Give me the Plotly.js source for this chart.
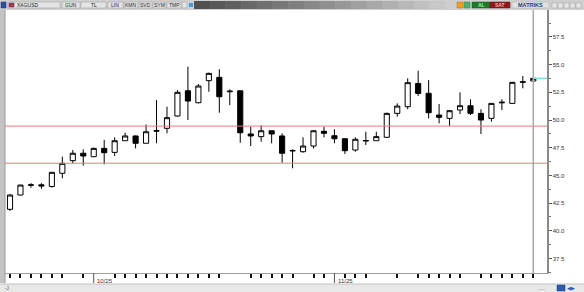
<!DOCTYPE html>
<html><head><meta charset="utf-8">
<script src="https://cdn.plot.ly/plotly-3.0.1.min.js"></script>
<style>html,body{margin:0;padding:0;background:#fff;}#chart{width:584px;height:292px;}</style>
</head><body><div id="chart"></div>
<script>
// ---- data ----
const day = Array.from({length:51},(_,i)=>i);
const openV  = [41.94,43.23,44.10,44.15,44.00,45.19,46.33,47.00,46.69,47.44,47.08,48.13,48.56,47.90,49.05,49.25,50.36,52.64,51.56,53.55,53.85,52.55,52.64,48.74,48.50,49.03,48.56,47.20,47.14,47.65,48.98,48.58,48.31,47.29,48.10,48.13,48.44,50.60,51.20,53.30,52.41,50.45,50.15,50.90,51.29,50.60,50.15,51.55,51.50,53.40,53.52];
const highV  = [43.30,44.15,44.30,44.30,45.30,46.69,47.29,47.35,47.50,48.20,48.44,48.85,48.60,49.60,51.80,51.20,52.70,54.81,53.25,54.27,54.58,52.77,52.64,49.40,49.52,49.03,48.80,47.35,48.44,49.10,49.40,49.16,48.31,48.44,48.94,48.94,50.66,51.50,53.76,54.45,53.60,51.44,50.90,52.50,51.87,50.97,51.50,51.87,53.45,53.97,53.85];
const lowV   = [41.80,43.20,43.90,43.80,43.90,44.74,46.09,45.88,46.65,46.00,46.75,48.13,47.44,47.90,47.90,48.80,50.30,50.00,51.50,52.55,50.66,51.35,47.95,47.65,48.04,47.90,46.15,45.64,47.05,47.44,48.44,47.90,46.93,47.14,47.74,48.13,48.40,50.30,50.97,52.17,50.15,49.70,49.46,50.54,50.45,48.74,49.85,50.90,51.50,52.86,53.50];
const closeV = [43.23,44.13,44.15,44.05,45.28,46.09,47.00,46.75,47.44,47.05,48.13,48.56,47.90,48.94,49.00,50.21,52.50,51.71,53.07,54.21,52.10,52.60,48.85,48.56,49.03,48.74,47.00,47.25,47.65,49.03,48.80,48.31,47.23,48.26,48.15,48.50,50.60,51.26,53.37,52.40,50.66,50.24,50.84,51.29,50.60,50.00,51.50,51.60,53.40,53.45,53.76];
const levels = [49.45, 46.10];
const tickDays = [0,1,2,3,4,5,7,10,11,12,13,14,15,16,17,18,19,20,23,24,25,26,27,29,30,32,33,34,37,39,40,41,42,43,45,46,47,48,49,50];
const monthDays = [8,31];
const monthLabels = ['10/25','11/25'];
const yTicks = [37.5,40,42.5,45,47.5,50,52.5,55,57.5];

// ---- layout helpers (pixel -> paper) ----
const L=5,T=10,W=542,H=263;
const px=v=>(v-L)/W, py=v=>(T+H-v)/H;
function rect(x0,y0,x1,y1,fill,line,lw){return {type:'rect',xref:'paper',yref:'paper',x0:px(x0),x1:px(x1),y0:py(y1),y1:py(y0),fillcolor:fill,line:{color:line||fill,width:lw||0},layer:'above'};}
function seg(x0,y0,x1,y1,color,w){return {type:'line',xref:'paper',yref:'paper',x0:px(x0),x1:px(x1),y0:py(y0),y1:py(y1),line:{color:color,width:w||1},layer:'above'};}
function txt(x,y,t,size,color,anchor,bold){return {xref:'paper',yref:'paper',x:px(x),y:py(y),text:bold?'<b>'+t+'</b>':t,showarrow:false,xanchor:anchor||'left',yanchor:'middle',font:{family:'Liberation Sans, Arial, sans-serif',size:size,color:color}};}

const shapes=[], annotations=[];
// toolbar
shapes.push(rect(0,0,584,10,'#cfcfcf','#cfcfcf',0));
shapes.push(rect(1,2,6,8,'#3050a0','#203070',0.5));
shapes.push(rect(8,2,60,8,'#e4e4e4','#9a9a9a',0.5));
shapes.push(rect(9,3,14,7,'#c83030','#2040a0',0.5));
annotations.push(txt(15,5,'XAGUSD',5,'#222'));
const btns=[[62,80,'GUN'],[81,106,'TL'],[108,123,'LIN'],[124,138,'KMN'],[139,152,'SVD'],[153,166,'SYM'],[167,181,'TMP']];
btns.forEach(b=>{shapes.push(rect(b[0],2,b[1],8,'#e4e4e4','#9a9a9a',0.5));annotations.push(txt((b[0]+b[1])/2,5,b[2],5,'#222','center'));});
shapes.push(rect(182,2,187,8,'#e4e4e4','#9a9a9a',0.5));
shapes.push(rect(189,3,193,7,'#40a0e0','#40a0e0',0));
// gradient bar
const gs=16; for(let i=0;i<gs;i++){const x0=194+i*(445-194)/gs, x1=194+(i+1)*(445-194)/gs; const g=Math.round(80+i*(200-80)/(gs-1)); const c='rgb('+g+','+g+','+g+')'; shapes.push(rect(x0,1,x1+0.5,9,c,c,0));}
shapes.push(rect(457,2,463,8,'#f0a020','#c07010',0.5));
shapes.push(rect(464,2,470,8,'#50b070','#308050',0.5));
shapes.push(rect(472,2,490,8,'#1f7a2a','#145a1c',0.5));
annotations.push(txt(481,5,'AL',5,'#a0f0a0','center',true));
shapes.push(rect(490,2,510,8,'#8e1a1a','#601010',0.5));
annotations.push(txt(500,5,'SAT',5,'#ffb0b0','center',true));
shapes.push(rect(512,2,549,8,'#e0e0e0','#b0b0b0',0.5));
annotations.push(txt(530,5,'MATRIKS',5.5,'#283a7a','center',true));
[552,558,564,570,576].forEach(x=>shapes.push(rect(x,3,x+5,8,'#e6e6e6','#a0a0a0',0.5)));
// left bar
shapes.push(rect(0,10,5,283,'#c4c4c4','#c4c4c4',0));
shapes.push(seg(5,10,5,283,'#9a9a9a',1));
// bottom strip
shapes.push(rect(0,284,584,292,'#e8e8e8','#e8e8e8',0));
shapes.push(seg(0,284,584,284,'#c0c0c0',1));
annotations.push(txt(3,288,'-J',4.5,'#444'));
annotations.push(txt(536,288,'.....',5,'#555'));
shapes.push(rect(557,285,565,291,'#2a5cb0','#1a3c80',0.5));
annotations.push(txt(571,288,'◀▶',5,'#2a5cb0','center'));
// right panel lines
shapes.push({type:'line',xref:'x',yref:'paper',x0:50,x1:50,y0:0,y1:1,line:{color:'#a8a8a8',width:1.5},layer:'above'});
shapes.push({type:'line',xref:'x',yref:'y',x0:50,x1:51.31,y0:closeV[50],y1:closeV[50],line:{color:'#7fe0e0',width:1.5},layer:'above'});
// level lines
levels.forEach(v=>shapes.push({type:'line',xref:'paper',yref:'y',x0:0,x1:1,y0:v,y1:v,line:{color:'#f07878',width:1},layer:'above'}));
// month markers
monthDays.forEach((d,i)=>{
  shapes.push({type:'line',xref:'x',yref:'paper',x0:d,x1:d,y0:py(273),y1:py(283),line:{color:'#555',width:1}});
  annotations.push({xref:'x',yref:'paper',x:d+0.12,y:py(280.5),text:monthLabels[i],showarrow:false,xanchor:'left',yanchor:'middle',font:{family:'Liberation Sans, Arial, sans-serif',size:6,color:'#333'}});
});

const trace={type:'candlestick',x:day,open:openV,high:highV,low:lowV,close:closeV,
  increasing:{line:{color:'#000',width:1},fillcolor:'#ffffff'},
  decreasing:{line:{color:'#000',width:1},fillcolor:'#000000'},
  whiskerwidth:0,hoverinfo:'none'};

const layout={width:584,height:292,margin:{l:L,r:584-L-W,t:T,b:292-T-H,pad:0},
  paper_bgcolor:'#ffffff',plot_bgcolor:'#ffffff',showlegend:false,
  xaxis:{range:[-0.478,51.31],tickmode:'array',tickvals:tickDays,ticktext:tickDays.map(()=> ''),ticks:'outside',ticklen:4,tickwidth:2,tickcolor:'#111',
    showgrid:false,zeroline:false,showline:true,linecolor:'#a0a0a0',linewidth:1,rangeslider:{visible:false},fixedrange:true},
  yaxis:{range:[36.19,59.93],side:'right',tickmode:'array',tickvals:yTicks,ticktext:yTicks.map(v=>v.toFixed(1)),ticks:'outside',ticklen:3,tickwidth:1,tickcolor:'#555',
    minor:{dtick:1.25,tick0:0,ticks:'outside',ticklen:2,tickcolor:'#777',tickwidth:1},
    tickfont:{family:'Liberation Sans, Arial, sans-serif',size:6,color:'#333'},
    showgrid:false,zeroline:false,showline:true,linecolor:'#8a8a8a',linewidth:1.5,mirror:false},
  shapes:shapes,annotations:annotations};
Plotly.newPlot('chart',[trace],layout,{staticPlot:true,displayModeBar:false});
</script></body></html>
